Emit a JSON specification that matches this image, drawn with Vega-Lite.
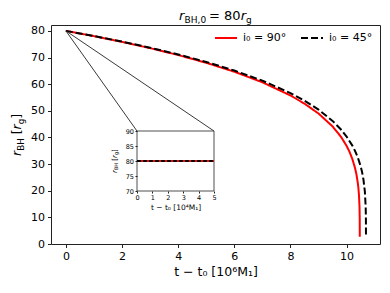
{
  "$schema": "https://vega.github.io/schema/vega-lite/v6.json",
  "width": 329,
  "height": 219,
  "autosize": {"type": "none"},
  "padding": {"left": 51, "top": 25, "right": 10, "bottom": 49},
  "config": {
    "font": "DejaVu Sans",
    "view": {"stroke": "#222", "strokeWidth": 1},
    "axis": {"grid": false, "domain": false, "tickColor": "#222", "labelColor": "#000", "titleColor": "#000", "titleFontWeight": "normal", "labelFlush": false, "labelOverlap": false}
  },
  "datasets": {
    "curves": [
      {"t": 0, "r": 80, "series": "i₀ = 90°"},
      {"t": 1, "r": 78.02, "series": "i₀ = 90°"},
      {"t": 2, "r": 75.87, "series": "i₀ = 90°"},
      {"t": 3, "r": 73.52, "series": "i₀ = 90°"},
      {"t": 4, "r": 70.93, "series": "i₀ = 90°"},
      {"t": 5, "r": 68.01, "series": "i₀ = 90°"},
      {"t": 6, "r": 64.67, "series": "i₀ = 90°"},
      {"t": 7, "r": 60.70, "series": "i₀ = 90°"},
      {"t": 8, "r": 55.75, "series": "i₀ = 90°"},
      {"t": 8.5, "r": 52.69, "series": "i₀ = 90°"},
      {"t": 9, "r": 48.97, "series": "i₀ = 90°"},
      {"t": 9.5, "r": 44.14, "series": "i₀ = 90°"},
      {"t": 9.8, "r": 40.24, "series": "i₀ = 90°"},
      {"t": 10.0, "r": 36.82, "series": "i₀ = 90°"},
      {"t": 10.1, "r": 34.69, "series": "i₀ = 90°"},
      {"t": 10.2, "r": 32.06, "series": "i₀ = 90°"},
      {"t": 10.3, "r": 28.56, "series": "i₀ = 90°"},
      {"t": 10.35, "r": 26.18, "series": "i₀ = 90°"},
      {"t": 10.4, "r": 22.88, "series": "i₀ = 90°"},
      {"t": 10.42, "r": 21.04, "series": "i₀ = 90°"},
      {"t": 10.44, "r": 18.52, "series": "i₀ = 90°"},
      {"t": 10.46, "r": 14.06, "series": "i₀ = 90°"},
      {"t": 10.468, "r": 9.41, "series": "i₀ = 90°"},
      {"t": 10.47, "r": 2.7, "series": "i₀ = 90°"},
      {"t": 0, "r": 80, "series": "i₀ = 45°"},
      {"t": 1, "r": 78.06, "series": "i₀ = 45°"},
      {"t": 2, "r": 75.96, "series": "i₀ = 45°"},
      {"t": 3, "r": 73.68, "series": "i₀ = 45°"},
      {"t": 4, "r": 71.15, "series": "i₀ = 45°"},
      {"t": 5, "r": 68.33, "series": "i₀ = 45°"},
      {"t": 6, "r": 65.11, "series": "i₀ = 45°"},
      {"t": 7, "r": 61.32, "series": "i₀ = 45°"},
      {"t": 8, "r": 56.66, "series": "i₀ = 45°"},
      {"t": 8.5, "r": 53.82, "series": "i₀ = 45°"},
      {"t": 9, "r": 50.44, "series": "i₀ = 45°"},
      {"t": 9.5, "r": 46.21, "series": "i₀ = 45°"},
      {"t": 9.8, "r": 42.97, "series": "i₀ = 45°"},
      {"t": 10.0, "r": 40.32, "series": "i₀ = 45°"},
      {"t": 10.2, "r": 37.02, "series": "i₀ = 45°"},
      {"t": 10.3, "r": 34.96, "series": "i₀ = 45°"},
      {"t": 10.4, "r": 32.47, "series": "i₀ = 45°"},
      {"t": 10.5, "r": 29.21, "series": "i₀ = 45°"},
      {"t": 10.55, "r": 27.07, "series": "i₀ = 45°"},
      {"t": 10.6, "r": 24.23, "series": "i₀ = 45°"},
      {"t": 10.65, "r": 19.78, "series": "i₀ = 45°"},
      {"t": 10.68, "r": 13.99, "series": "i₀ = 45°"},
      {"t": 10.688, "r": 9.36, "series": "i₀ = 45°"},
      {"t": 10.69, "r": 2.7, "series": "i₀ = 45°"}
    ],
    "inset": [
      {"t": 0, "r": 80, "series": "i₀ = 90°"},
      {"t": 5, "r": 80, "series": "i₀ = 90°"},
      {"t": 0, "r": 80, "series": "i₀ = 45°"},
      {"t": 5, "r": 80, "series": "i₀ = 45°"}
    ],
    "connectors": [
      {"t": 0, "r": 80, "c": "left"},
      {"t": 2.533, "r": 42.41, "c": "left"},
      {"t": 0, "r": 80, "c": "right"},
      {"t": 5.275, "r": 42.41, "c": "right"}
    ],
    "one": [{}]
  },
  "layer": [
    {
      "data": {"name": "curves"},
      "mark": {"type": "line", "strokeWidth": 2},
      "encoding": {
        "x": {"field": "t", "type": "quantitative", "scale": {"domain": [-0.53, 11.19], "nice": false, "zero": false},
              "axis": {"values": [0, 2, 4, 6, 8, 10], "title": "t − t₀ [10⁶M₁]", "titleFontSize": 12.5, "labelFontSize": 11, "tickSize": 3.5, "labelPadding": 3, "titlePadding": 4}},
        "y": {"field": "r", "type": "quantitative", "scale": {"domain": [0, 82.2], "nice": false, "zero": false},
              "axis": {"values": [0, 10, 20, 30, 40, 50, 60, 70, 80], "title": null, "labelFontSize": 11, "tickSize": 3.5, "labelPadding": 3}},
        "color": {"field": "series", "type": "nominal", "scale": {"domain": ["i₀ = 90°", "i₀ = 45°"], "range": ["#ff0000", "#000000"]},
                  "legend": {"orient": "none", "legendX": 163, "legendY": 1, "direction": "horizontal", "title": null, "symbolType": "stroke", "symbolSize": 484, "symbolStrokeWidth": 2, "labelFontSize": 11, "labelOffset": 5, "columnPadding": 10, "padding": 0}},
        "strokeDash": {"field": "series", "type": "nominal", "scale": {"domain": ["i₀ = 90°", "i₀ = 45°"], "range": [[1, 0], [7, 3]]},
                  "legend": {"orient": "none", "legendX": 163, "legendY": 1, "direction": "horizontal", "title": null, "symbolType": "stroke", "symbolSize": 484, "symbolStrokeWidth": 2, "labelFontSize": 11, "labelOffset": 5, "columnPadding": 10, "padding": 0}}
      }
    },
    {
      "layer": [
        {
          "data": {"name": "connectors"},
          "mark": {"type": "line", "color": "#222", "strokeWidth": 0.9},
          "encoding": {
            "x": {"field": "t", "type": "quantitative", "scale": {"domain": [-0.53, 11.19], "nice": false, "zero": false}, "axis": null},
            "y": {"field": "r", "type": "quantitative", "scale": {"domain": [0, 82.2], "nice": false, "zero": false}, "axis": null},
            "detail": {"field": "c"}
          }
        },
        {"data": {"name": "one"}, "mark": {"type": "text", "text": "r", "fontStyle": "italic", "fontSize": 13, "align": "left", "baseline": "alphabetic", "dx": 0},
         "encoding": {"x": {"datum": 4.03, "type": "quantitative", "axis": null}, "y": {"datum": 84.08, "type": "quantitative", "axis": null}}},
        {"data": {"name": "one"}, "mark": {"type": "text", "text": "BH,0", "fontSize": 9, "align": "left", "baseline": "alphabetic", "dx": 5.6, "dy": 3},
         "encoding": {"x": {"datum": 4.03, "type": "quantitative", "axis": null}, "y": {"datum": 84.08, "type": "quantitative", "axis": null}}},
        {"data": {"name": "one"}, "mark": {"type": "text", "text": "= 80", "fontSize": 13, "align": "left", "baseline": "alphabetic", "dx": 30},
         "encoding": {"x": {"datum": 4.03, "type": "quantitative", "axis": null}, "y": {"datum": 84.08, "type": "quantitative", "axis": null}}},
        {"data": {"name": "one"}, "mark": {"type": "text", "text": "r", "fontStyle": "italic", "fontSize": 13, "align": "left", "baseline": "alphabetic", "dx": 61.8},
         "encoding": {"x": {"datum": 4.03, "type": "quantitative", "axis": null}, "y": {"datum": 84.08, "type": "quantitative", "axis": null}}},
        {"data": {"name": "one"}, "mark": {"type": "text", "text": "g", "fontSize": 9, "align": "left", "baseline": "alphabetic", "dx": 67, "dy": 3},
         "encoding": {"x": {"datum": 4.03, "type": "quantitative", "axis": null}, "y": {"datum": 84.08, "type": "quantitative", "axis": null}}},
        {"data": {"name": "one"}, "mark": {"type": "text", "text": "r", "fontStyle": "italic", "fontSize": 12.5, "align": "left", "baseline": "alphabetic", "angle": 270, "dx": 0},
         "encoding": {"x": {"datum": -1.6, "type": "quantitative", "axis": null}, "y": {"datum": 33.03, "type": "quantitative", "axis": null}}},
        {"data": {"name": "one"}, "mark": {"type": "text", "text": "BH", "fontSize": 8.75, "align": "left", "baseline": "alphabetic", "angle": 270, "dx": 5.2, "dy": 2.6},
         "encoding": {"x": {"datum": -1.6, "type": "quantitative", "axis": null}, "y": {"datum": 33.03, "type": "quantitative", "axis": null}}},
        {"data": {"name": "one"}, "mark": {"type": "text", "text": "[", "fontSize": 12.5, "align": "left", "baseline": "alphabetic", "angle": 270, "dx": 21.7},
         "encoding": {"x": {"datum": -1.6, "type": "quantitative", "axis": null}, "y": {"datum": 33.03, "type": "quantitative", "axis": null}}},
        {"data": {"name": "one"}, "mark": {"type": "text", "text": "r", "fontStyle": "italic", "fontSize": 12.5, "align": "left", "baseline": "alphabetic", "angle": 270, "dx": 26.6},
         "encoding": {"x": {"datum": -1.6, "type": "quantitative", "axis": null}, "y": {"datum": 33.03, "type": "quantitative", "axis": null}}},
        {"data": {"name": "one"}, "mark": {"type": "text", "text": "g", "fontSize": 8.75, "align": "left", "baseline": "alphabetic", "angle": 270, "dx": 31.7, "dy": 2.6},
         "encoding": {"x": {"datum": -1.6, "type": "quantitative", "axis": null}, "y": {"datum": 33.03, "type": "quantitative", "axis": null}}},
        {"data": {"name": "one"}, "mark": {"type": "text", "text": "]", "fontSize": 12.5, "align": "left", "baseline": "alphabetic", "angle": 270, "dx": 37.3},
         "encoding": {"x": {"datum": -1.6, "type": "quantitative", "axis": null}, "y": {"datum": 33.03, "type": "quantitative", "axis": null}}}
      ]
    },
    {
      "layer": [
        {
          "data": {"name": "one"},
          "mark": {"type": "rect", "fill": "white", "stroke": "#222", "strokeWidth": 0.8},
          "encoding": {
            "x": {"datum": 0, "type": "quantitative", "scale": {"domain": [0, 5], "range": [86, 163], "nice": false, "zero": false}, "axis": null},
            "x2": {"datum": 5},
            "y": {"datum": 70, "type": "quantitative", "scale": {"domain": [70, 90], "range": [166, 106], "nice": false, "zero": false}, "axis": null},
            "y2": {"datum": 90}
          }
        },
        {"data": {"name": "one"}, "mark": {"type": "text", "text": "r", "fontStyle": "italic", "fontSize": 7, "align": "left", "baseline": "alphabetic", "angle": 270, "dx": 0},
         "encoding": {"x": {"datum": -1.3, "type": "quantitative", "axis": null}, "y": {"datum": 76.0, "type": "quantitative", "axis": null}}},
        {"data": {"name": "one"}, "mark": {"type": "text", "text": "BH", "fontSize": 5, "align": "left", "baseline": "alphabetic", "angle": 270, "dx": 2.9, "dy": 1.5},
         "encoding": {"x": {"datum": -1.3, "type": "quantitative", "axis": null}, "y": {"datum": 76.0, "type": "quantitative", "axis": null}}},
        {"data": {"name": "one"}, "mark": {"type": "text", "text": "[", "fontSize": 7, "align": "left", "baseline": "alphabetic", "angle": 270, "dx": 12.3},
         "encoding": {"x": {"datum": -1.3, "type": "quantitative", "axis": null}, "y": {"datum": 76.0, "type": "quantitative", "axis": null}}},
        {"data": {"name": "one"}, "mark": {"type": "text", "text": "r", "fontStyle": "italic", "fontSize": 7, "align": "left", "baseline": "alphabetic", "angle": 270, "dx": 15.0},
         "encoding": {"x": {"datum": -1.3, "type": "quantitative", "axis": null}, "y": {"datum": 76.0, "type": "quantitative", "axis": null}}},
        {"data": {"name": "one"}, "mark": {"type": "text", "text": "g", "fontSize": 5, "align": "left", "baseline": "alphabetic", "angle": 270, "dx": 17.9, "dy": 1.5},
         "encoding": {"x": {"datum": -1.3, "type": "quantitative", "axis": null}, "y": {"datum": 76.0, "type": "quantitative", "axis": null}}},
        {"data": {"name": "one"}, "mark": {"type": "text", "text": "]", "fontSize": 7, "align": "left", "baseline": "alphabetic", "angle": 270, "dx": 21.1},
         "encoding": {"x": {"datum": -1.3, "type": "quantitative", "axis": null}, "y": {"datum": 76.0, "type": "quantitative", "axis": null}}}
      ]
    },
    {
      "data": {"name": "inset"},
      "mark": {"type": "line", "strokeWidth": 2},
      "encoding": {
        "x": {"field": "t", "type": "quantitative", "scale": {"domain": [0, 5], "range": [86, 163], "nice": false, "zero": false},
              "axis": {"orient": "bottom", "offset": -53, "values": [0, 1, 2, 3, 4, 5], "labelFontSize": 6.5, "tickSize": 2, "labelPadding": 1.5, "title": "t − t₀ [10⁴M₁]", "titleFontSize": 7.5, "titlePadding": 2, "zindex": 1}},
        "y": {"field": "r", "type": "quantitative", "scale": {"domain": [70, 90], "range": [166, 106], "nice": false, "zero": false},
              "axis": {"orient": "left", "offset": -86, "values": [70, 75, 80, 85, 90], "labelFontSize": 6.5, "tickSize": 2, "labelPadding": 1.5, "title": null, "zindex": 1}},
        "color": {"field": "series", "type": "nominal", "scale": {"domain": ["i₀ = 90°", "i₀ = 45°"], "range": ["#ff0000", "#000000"]}, "legend": null},
        "strokeDash": {"field": "series", "type": "nominal", "scale": {"domain": ["i₀ = 90°", "i₀ = 45°"], "range": [[1, 0], [4, 2]]}, "legend": null}
      }
    }
  ],
  "resolve": {
    "scale": {"x": "independent", "y": "independent", "color": "independent", "strokeDash": "independent"},
    "axis": {"x": "independent", "y": "independent"}
  }
}
